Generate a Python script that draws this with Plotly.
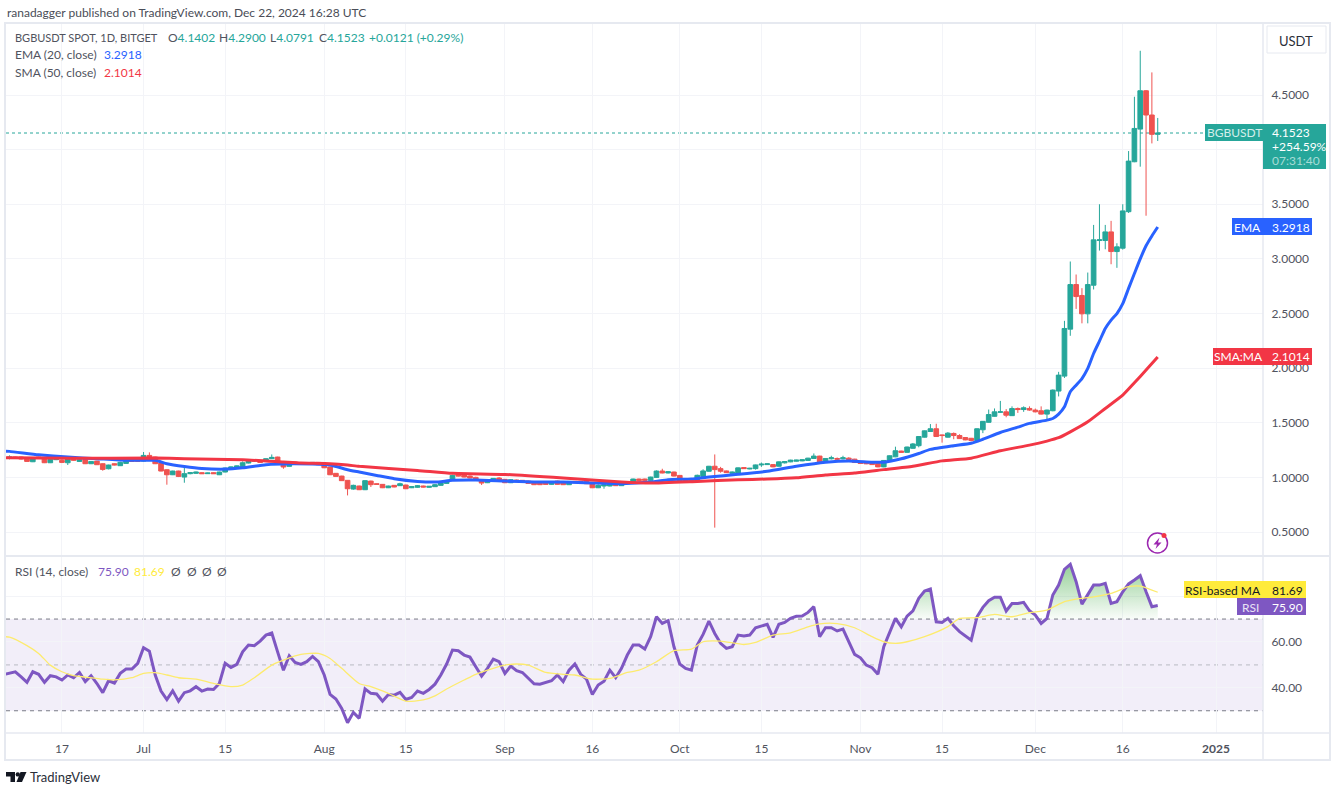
import pandas as pd
import numpy as np
import plotly.graph_objects as go
from plotly.subplots import make_subplots

WIDTH = 1337
HEIGHT = 788
FONT = "Lato"
GREEN = "#26a69a"
RED = "#ef5350"
BLUE = "#2962ff"
SMA_RED = "#f23645"
PURPLE = "#7e57c2"
YELLOW = "#ffeb3b"
TEXT = "#50535e"
GRID = "#f3f4f8"
FRAME = "#e6e9f0"

dates = pd.date_range("2024-06-08", "2024-12-22", freq="D")
# the lines run on past the left edge, one bar before the first candle shown
first_line_day = pd.Timestamp("2024-06-07")

bar_open = [
    1.180, 1.186, 1.186, 1.177, 1.143, 1.186, 1.177, 1.134, 1.162, 1.156,
    1.134, 1.171, 1.146, 1.162, 1.125, 1.149, 1.125, 1.079, 1.125, 1.107,
    1.128, 1.153, 1.162, 1.149, 1.201, 1.186, 1.134, 1.070, 1.024, 1.058,
    1.003, 1.034, 1.037, 1.043, 1.034, 1.043, 1.024, 1.049, 1.085, 1.095,
    1.095, 1.131, 1.149, 1.149, 1.146, 1.171, 1.186, 1.134, 1.101, 1.140,
    1.122, 1.134, 1.119, 1.137, 1.119, 1.095, 1.037, 1.012, 0.973, 0.893,
    0.921, 0.887, 0.966, 0.942, 0.936, 0.905, 0.927, 0.924, 0.930, 0.905,
    0.909, 0.921, 0.909, 0.915, 0.927, 0.945, 0.973, 1.024, 1.024, 1.012,
    1.000, 0.973, 0.951, 0.966, 0.994, 0.982, 0.951, 0.976, 0.973, 0.966,
    0.957, 0.948, 0.948, 0.936, 0.966, 0.957, 0.933, 0.963, 0.963, 0.963,
    0.942, 0.905, 0.921, 0.921, 0.945, 0.924, 0.942, 0.951, 0.985, 0.985,
    0.973, 1.000, 1.058, 1.040, 1.049, 1.018, 0.981, 0.978, 0.963, 1.009,
    1.056, 1.102, 1.080, 1.059, 1.037, 1.040, 1.090, 1.077, 1.080, 1.114,
    1.117, 1.117, 1.102, 1.133, 1.142, 1.148, 1.151, 1.155, 1.173, 1.195,
    1.142, 1.170, 1.173, 1.170, 1.176, 1.167, 1.142, 1.139, 1.133, 1.127,
    1.096, 1.148, 1.188, 1.241, 1.229, 1.266, 1.290, 1.368, 1.420, 1.445,
    1.389, 1.368, 1.402, 1.383, 1.365, 1.358, 1.337, 1.436, 1.504, 1.559,
    1.596, 1.600, 1.565, 1.630, 1.621, 1.631, 1.616, 1.610, 1.579, 1.610,
    1.790, 1.927, 2.357, 2.765, 2.665, 2.497, 2.759, 3.168, 3.168, 3.247,
    3.067, 3.098, 3.432, 3.889, 4.188, 4.539, 4.317, 4.1402,
]
bar_high = [
    1.201, 1.189, 1.189, 1.180, 1.177, 1.189, 1.180, 1.168, 1.174, 1.165,
    1.192, 1.174, 1.165, 1.165, 1.149, 1.152, 1.128, 1.116, 1.128, 1.143,
    1.159, 1.156, 1.165, 1.232, 1.229, 1.189, 1.137, 1.073, 1.061, 1.061,
    1.110, 1.049, 1.052, 1.046, 1.043, 1.046, 1.052, 1.088, 1.098, 1.107,
    1.146, 1.156, 1.159, 1.152, 1.174, 1.210, 1.189, 1.137, 1.140, 1.143,
    1.137, 1.137, 1.140, 1.140, 1.122, 1.098, 1.040, 1.015, 0.976, 0.933,
    0.924, 0.973, 0.970, 0.945, 0.939, 0.924, 0.930, 0.951, 0.933, 0.918,
    0.930, 0.924, 0.921, 0.939, 0.954, 0.973, 1.024, 1.027, 1.027, 1.018,
    1.006, 0.976, 0.982, 0.994, 1.003, 0.985, 0.982, 0.979, 0.976, 0.970,
    0.960, 0.951, 0.951, 0.954, 0.970, 0.960, 0.966, 0.966, 0.966, 0.966,
    0.945, 0.936, 0.936, 0.945, 0.948, 0.954, 0.963, 0.988, 0.988, 0.988,
    1.006, 1.064, 1.079, 1.055, 1.052, 1.021, 0.985, 0.981, 1.025, 1.074,
    1.105, 1.210, 1.096, 1.062, 1.053, 1.090, 1.093, 1.087, 1.117, 1.136,
    1.127, 1.121, 1.145, 1.148, 1.161, 1.161, 1.164, 1.179, 1.219, 1.198,
    1.176, 1.198, 1.182, 1.198, 1.185, 1.170, 1.145, 1.142, 1.136, 1.130,
    1.158, 1.201, 1.281, 1.244, 1.281, 1.315, 1.377, 1.429, 1.488, 1.491,
    1.392, 1.414, 1.411, 1.395, 1.368, 1.361, 1.448, 1.516, 1.621, 1.631,
    1.700, 1.625, 1.650, 1.640, 1.650, 1.650, 1.630, 1.650, 1.620, 1.805,
    1.966, 2.433, 2.976, 2.857, 2.732, 2.875, 3.311, 3.500, 3.311, 3.348,
    3.143, 3.500, 3.987, 4.484, 4.905, 4.545, 4.707, 4.2900,
]
bar_low = [
    1.165, 1.174, 1.165, 1.143, 1.140, 1.171, 1.131, 1.131, 1.158, 1.131,
    1.113, 1.150, 1.143, 1.122, 1.122, 1.113, 1.061, 1.073, 1.110, 1.104,
    1.125, 1.143, 1.143, 1.146, 1.183, 1.122, 1.055, 0.933, 1.021, 1.003,
    0.951, 1.028, 1.034, 1.031, 1.031, 1.031, 1.021, 1.046, 1.082, 1.092,
    1.092, 1.128, 1.146, 1.134, 1.143, 1.168, 1.131, 1.079, 1.098, 1.116,
    1.119, 1.119, 1.116, 1.113, 1.085, 1.021, 1.006, 0.967, 0.835, 0.887,
    0.884, 0.884, 0.912, 0.933, 0.902, 0.902, 0.909, 0.921, 0.893, 0.902,
    0.905, 0.909, 0.905, 0.912, 0.924, 0.942, 0.970, 1.009, 1.000, 0.991,
    0.970, 0.930, 0.948, 0.963, 0.970, 0.948, 0.948, 0.960, 0.960, 0.942,
    0.930, 0.930, 0.933, 0.933, 0.933, 0.930, 0.930, 0.948, 0.945, 0.939,
    0.902, 0.902, 0.896, 0.918, 0.921, 0.921, 0.939, 0.948, 0.967, 0.970,
    0.970, 0.997, 1.037, 1.037, 1.009, 0.967, 0.960, 0.960, 0.960, 1.006,
    1.053, 0.540, 1.043, 1.040, 1.034, 1.037, 1.077, 1.074, 1.071, 1.096,
    1.114, 1.093, 1.099, 1.127, 1.139, 1.145, 1.148, 1.152, 1.170, 1.139,
    1.139, 1.164, 1.158, 1.164, 1.161, 1.133, 1.124, 1.121, 1.114, 1.093,
    1.093, 1.145, 1.185, 1.226, 1.226, 1.263, 1.275, 1.365, 1.417, 1.371,
    1.318, 1.365, 1.349, 1.352, 1.340, 1.331, 1.334, 1.405, 1.501, 1.556,
    1.590, 1.550, 1.562, 1.590, 1.600, 1.610, 1.595, 1.575, 1.524, 1.605,
    1.741, 1.910, 2.296, 2.542, 2.410, 2.410, 2.720, 3.076, 3.088, 2.951,
    2.918, 3.085, 3.420, 3.885, 3.844, 3.395, 4.057, 4.0791,
]
bar_close = [
    1.186, 1.177, 1.168, 1.146, 1.174, 1.174, 1.134, 1.165, 1.171, 1.137,
    1.174, 1.156, 1.162, 1.125, 1.146, 1.116, 1.073, 1.113, 1.113, 1.137,
    1.156, 1.146, 1.146, 1.201, 1.186, 1.125, 1.058, 1.024, 1.058, 1.009,
    1.034, 1.043, 1.049, 1.034, 1.040, 1.034, 1.049, 1.085, 1.095, 1.104,
    1.134, 1.149, 1.156, 1.137, 1.171, 1.183, 1.134, 1.095, 1.137, 1.119,
    1.134, 1.122, 1.137, 1.116, 1.088, 1.024, 1.009, 0.970, 0.896, 0.927,
    0.887, 0.970, 0.933, 0.936, 0.905, 0.921, 0.912, 0.942, 0.896, 0.915,
    0.924, 0.912, 0.918, 0.933, 0.951, 0.970, 1.018, 1.012, 1.003, 0.994,
    0.973, 0.948, 0.979, 0.991, 0.973, 0.951, 0.979, 0.966, 0.963, 0.945,
    0.933, 0.933, 0.936, 0.951, 0.936, 0.933, 0.963, 0.951, 0.948, 0.942,
    0.905, 0.927, 0.933, 0.942, 0.924, 0.951, 0.960, 0.985, 0.970, 0.973,
    1.003, 1.058, 1.040, 1.052, 1.012, 0.970, 0.963, 0.963, 1.019, 1.059,
    1.102, 1.071, 1.056, 1.043, 1.049, 1.087, 1.080, 1.083, 1.114, 1.121,
    1.124, 1.096, 1.142, 1.145, 1.158, 1.158, 1.161, 1.176, 1.195, 1.142,
    1.173, 1.179, 1.167, 1.179, 1.164, 1.136, 1.127, 1.124, 1.117, 1.096,
    1.155, 1.198, 1.244, 1.229, 1.278, 1.306, 1.374, 1.426, 1.445, 1.374,
    1.383, 1.405, 1.383, 1.355, 1.343, 1.337, 1.445, 1.513, 1.575, 1.600,
    1.600, 1.569, 1.630, 1.621, 1.637, 1.616, 1.600, 1.579, 1.616, 1.799,
    1.936, 2.363, 2.765, 2.655, 2.497, 2.765, 3.174, 3.174, 3.247, 3.067,
    3.110, 3.439, 3.895, 4.194, 4.539, 4.317, 4.140, 4.1523,
]

# moving averages read at these bar numbers
ema_bars = [
    0, 5, 10, 15, 20, 25, 27, 30, 33, 37, 40, 44, 48, 52, 55, 58, 60, 63, 66, 70,
    73, 76, 80, 85, 90, 95, 100, 105, 110, 113, 117, 120, 125, 130, 135, 140, 144,
    148, 150, 153, 156, 158, 162, 165, 167, 170, 173, 175, 178, 179, 180, 181, 182,
    183, 184, 185, 186, 187, 188, 189, 190, 191, 192, 193, 194, 195, 196, 197,
]
ema_start = 1.241
ema_values = [
    1.238, 1.207, 1.186, 1.171, 1.156, 1.156, 1.125, 1.100, 1.082, 1.076, 1.088,
    1.116, 1.125, 1.122, 1.113, 1.070, 1.049, 1.018, 0.988, 0.963, 0.957, 0.973,
    0.976, 0.966, 0.957, 0.957, 0.948, 0.942, 0.957, 0.979, 0.985, 1.003, 1.028,
    1.056, 1.102, 1.139, 1.151, 1.139, 1.139, 1.170, 1.219, 1.256, 1.290, 1.312,
    1.349, 1.411, 1.460, 1.494, 1.524, 1.539, 1.579, 1.646, 1.783, 1.844, 1.905,
    1.997, 2.134, 2.247, 2.363, 2.439, 2.500, 2.590, 2.730, 2.866, 3.000, 3.120,
    3.210, 3.2918,
]
sma_bars = [
    0, 10, 25, 30, 40, 47, 50, 55, 58, 60, 70, 76, 85, 95, 105, 110, 118, 125, 130,
    135, 140, 145, 150, 155, 160, 165, 170, 175, 178, 180, 182, 185, 188, 191, 193,
    195, 197,
]
sma_start = 1.180
sma_values = [
    1.180, 1.174, 1.177, 1.171, 1.162, 1.140, 1.131, 1.125, 1.113, 1.101, 1.064,
    1.037, 1.027, 0.994, 0.957, 0.948, 0.963, 0.978, 0.985, 0.997, 1.022, 1.040,
    1.071, 1.102, 1.151, 1.176, 1.244, 1.295, 1.332, 1.363, 1.417, 1.509, 1.631,
    1.753, 1.866, 1.982, 2.1014,
]

rsi_start = 45.8
rsi_values = [
    46.3, 47.0, 44.8, 42.4, 47.0, 45.9, 42.4, 45.3, 44.8, 43.4,
    45.6, 44.4, 46.7, 42.7, 45.3, 41.9, 37.9, 43.1, 42.1, 46.3,
    48.2, 48.2, 50.7, 57.5, 56.0, 45.6, 38.6, 34.9, 38.7, 34.2,
    37.9, 38.7, 40.5, 38.6, 39.5, 39.3, 41.9, 50.7, 48.9, 50.2,
    55.7, 58.7, 58.4, 60.4, 63.0, 63.9, 55.7, 47.7, 54.0, 51.1,
    50.2, 51.4, 53.7, 51.4, 45.6, 37.1, 35.1, 31.0, 24.8, 29.3,
    26.7, 39.5, 37.6, 37.3, 34.2, 37.1, 36.8, 38.0, 34.9, 35.8,
    38.6, 37.6, 39.3, 41.6, 45.6, 50.4, 56.5, 56.2, 54.3, 53.4,
    49.2, 45.1, 48.5, 52.5, 51.4, 46.3, 49.5, 47.5, 46.7, 44.4,
    41.8, 41.6, 42.4, 43.1, 45.6, 42.7, 47.7, 50.4, 45.9, 43.8,
    37.1, 41.2, 42.9, 47.7, 44.4, 48.5, 54.3, 58.7, 58.7, 56.9,
    62.3, 71.0, 68.1, 69.3, 57.9, 50.4, 48.5, 47.7, 58.7, 63.3,
    69.1, 63.7, 59.4, 57.2, 57.9, 63.0, 62.6, 63.0, 66.2, 67.1,
    67.7, 62.0, 67.7, 68.5, 70.3, 71.2, 71.3, 72.9, 75.4, 62.3,
    66.2, 66.2, 64.8, 65.6, 59.8, 54.6, 53.1, 49.9, 48.8, 45.9,
    57.9, 64.2, 70.3, 66.6, 71.3, 73.6, 79.0, 82.2, 83.1, 68.8,
    68.5, 70.3, 67.1, 64.5, 62.7, 60.8, 71.0, 75.1, 78.0, 79.5,
    79.5, 73.5, 76.8, 76.8, 77.3, 73.6, 71.7, 68.1, 70.3, 80.5,
    84.8, 91.7, 93.9, 86.3, 76.5, 80.5, 84.8, 84.8, 85.6, 76.8,
    77.6, 81.9, 85.3, 87.0, 88.9, 81.9, 75.4, 75.9,
]
rsi_ma_bars = [
    0, 3, 5, 7, 9, 11, 13, 16, 18, 21, 23, 25, 27, 29, 32, 35, 38, 40, 42, 45, 47,
    50, 53, 55, 57, 60, 62, 65, 68, 71, 73, 75, 78, 80, 83, 85, 87, 89, 92, 95, 97,
    100, 103, 106, 108, 111, 114, 117, 119, 122, 126, 128, 131, 134, 137, 139, 142,
    145, 148, 150, 152, 154, 157, 161, 163, 166, 169, 172, 175, 178, 181, 183, 186,
    189, 192, 194, 197,
]
rsi_ma_start = 62.3
rsi_ma_values = [
    62.1, 58.4, 55.0, 49.9, 47.0, 45.3, 44.7, 43.8, 43.5, 44.4, 46.3, 46.6, 45.6,
    44.4, 43.8, 41.9, 40.5, 41.2, 44.4, 49.9, 52.1, 54.6, 55.0, 52.8, 48.5, 41.9,
    40.5, 37.6, 34.2, 34.7, 36.5, 39.5, 43.4, 45.9, 48.5, 49.9, 50.4, 49.9, 46.7,
    45.9, 45.6, 43.8, 44.1, 46.7, 47.7, 51.4, 56.2, 56.9, 60.1, 60.4, 58.9, 59.8,
    63.0, 64.0, 66.6, 67.9, 68.0, 66.2, 62.3, 60.1, 59.4, 60.1, 62.3, 66.7, 70.3,
    70.6, 72.0, 71.0, 72.8, 73.9, 77.6, 78.7, 79.7, 81.2, 84.1, 84.4, 81.69,
]

price_ticks = [0.5, 1.0, 1.5, 2.0, 2.5, 3.0, 3.5, 4.0, 4.5]
# 4.0000 sits behind the last price badge, so it gets a grid line but no label
price_labels = ["0.5000", "1.0000", "1.5000", "2.0000", "2.5000", "3.0000", "3.5000", "", "4.5000"]
rsi_ticks = [40, 60, 80]
rsi_labels = ["40.00", "60.00", ""]
time_ticks = [
    "2024-06-17", "2024-07-01", "2024-07-15", "2024-08-01", "2024-08-15",
    "2024-09-01", "2024-09-16", "2024-10-01", "2024-10-15", "2024-11-01",
    "2024-11-15", "2024-12-01", "2024-12-16", "2025-01-01",
]
time_labels = [
    "17", "Jul", "15", "Aug", "15", "Sep", "16", "Oct", "15", "Nov", "15", "Dec",
    "16", "<b>2025</b>",
]


def px_x(x):
    return x / WIDTH


def px_y(y):
    return 1 - y / HEIGHT


def path_of(points):
    cmds = [f"{px_x(x):.5f},{px_y(y):.5f}" for x, y in points]
    return "M" + " L".join(cmds) + " Z"


def add_rect(fig, x0, y0, x1, y1, fill=None, line=None, width=1):
    fig.add_shape(
        type="rect", xref="paper", yref="paper", layer="above",
        x0=px_x(x0), x1=px_x(x1), y0=px_y(y0), y1=px_y(y1),
        fillcolor=fill or "rgba(0,0,0,0)",
        line=dict(color=line or "rgba(0,0,0,0)", width=width),
    )


def add_rule(fig, x0, y0, x1, y1, color=FRAME, width=1):
    fig.add_shape(
        type="line", xref="paper", yref="paper", layer="above",
        x0=px_x(x0), x1=px_x(x1), y0=px_y(y0), y1=px_y(y1),
        line=dict(color=color, width=width),
    )


def add_text(fig, x, y, text, color=TEXT, size=12, anchor="left"):
    fig.add_annotation(
        xref="paper", yref="paper", x=px_x(x), y=px_y(y), text=text, showarrow=False,
        xanchor=anchor, yanchor="middle", borderpad=0,
        font=dict(family=FONT, size=size, color=color),
    )


fig = make_subplots(rows=2, cols=1, shared_xaxes=True)

fig.add_trace(go.Candlestick(
    x=dates, open=bar_open, high=bar_high, low=bar_low, close=bar_close,
    increasing=dict(line=dict(color=GREEN, width=1), fillcolor=GREEN),
    decreasing=dict(line=dict(color=RED, width=1), fillcolor=RED),
    showlegend=False,
), row=1, col=1)
fig.add_trace(go.Scatter(
    x=[first_line_day, *dates[ema_bars]], y=[ema_start, *ema_values], mode="lines",
    line=dict(color=BLUE, width=3, shape="spline", smoothing=0.5), showlegend=False,
), row=1, col=1)
fig.add_trace(go.Scatter(
    x=[first_line_day, *dates[sma_bars]], y=[sma_start, *sma_values], mode="lines",
    line=dict(color=SMA_RED, width=3, shape="spline", smoothing=0.5), showlegend=False,
), row=1, col=1)

# green overbought fill between the 70 level and the RSI
fig.add_trace(go.Scatter(
    x=dates, y=[70] * len(dates), mode="lines", line=dict(width=0), showlegend=False,
), row=2, col=1)
fig.add_trace(go.Scatter(
    x=dates, y=np.maximum(rsi_values, 70), mode="lines", line=dict(width=0),
    fill="tonexty", showlegend=False,
    fillgradient=dict(
        type="vertical", start=70, stop=95,
        colorscale=[[0, "rgba(76,175,80,0.03)"], [1, "rgba(76,175,80,0.62)"]],
    ),
), row=2, col=1)
fig.add_trace(go.Scatter(
    x=[first_line_day, *dates], y=[rsi_start, *rsi_values], mode="lines",
    line=dict(color=PURPLE, width=3), showlegend=False,
), row=2, col=1)
fig.add_trace(go.Scatter(
    x=[first_line_day, *dates[rsi_ma_bars]], y=[rsi_ma_start, *rsi_ma_values], mode="lines",
    line=dict(color="#fdeb6e", width=1.3, shape="spline", smoothing=0.6),
    showlegend=False,
), row=2, col=1)

# RSI band and levels
fig.add_shape(type="rect", xref="x2 domain", yref="y2", x0=0, x1=1, y0=30, y1=70,
              fillcolor="rgba(126,87,194,0.1)", line=dict(width=0), layer="below")
for level, color in [(70, "#787b86"), (50, "#b8bac2"), (30, "#787b86")]:
    fig.add_shape(type="line", xref="x2 domain", yref="y2", x0=0, x1=1, y0=level, y1=level,
                  line=dict(color=color, width=1, dash="4px,4px"), layer="below")
# last price line
fig.add_shape(type="line", xref="x domain", yref="y", x0=0, x1=1, y0=bar_close[-1],
              y1=bar_close[-1], line=dict(color=GREEN, width=1, dash="dot"), layer="below")

fig.update_xaxes(
    range=["2024-06-07 09:36", "2025-01-09 01:30"], tickvals=time_ticks, ticktext=time_labels,
    showgrid=True, gridcolor=GRID, gridwidth=1, zeroline=False, showline=False,
    rangeslider_visible=False, domain=[px_x(6), px_x(1263)],
    ticks="outside", ticklen=5, tickcolor="rgba(0,0,0,0)",
    tickfont=dict(family=FONT, size=12, color=TEXT), tickangle=0,
)
fig.update_yaxes(
    side="right", showgrid=True, gridcolor=GRID, gridwidth=1, zeroline=False, showline=False,
    ticks="outside", ticklen=5, tickcolor="rgba(0,0,0,0)",
    tickfont=dict(family=FONT, size=12, color=TEXT),
)
fig.update_yaxes(row=1, col=1, range=[0.2895, 5.15], tickvals=price_ticks, ticktext=price_labels,
                 domain=[px_y(555), px_y(24)])
fig.update_yaxes(row=2, col=1, range=[20.3, 97.5], tickvals=rsi_ticks, ticktext=rsi_labels,
                 domain=[px_y(733), px_y(556)])
fig.update_xaxes(row=1, col=1, showticklabels=False, ticks="")

fig.update_layout(
    width=WIDTH, height=HEIGHT, autosize=False, paper_bgcolor="white", plot_bgcolor="white",
    margin=dict(l=0, r=0, t=0, b=0), boxgap=0.2, boxgroupgap=0, showlegend=False,
)

# chart frame and pane separators
add_rect(fig, 5, 23, 1330, 760, line=FRAME, width=2)
add_rule(fig, 6, 556, 1330, 556, width=2)
add_rule(fig, 6, 733, 1330, 733, width=1.5)
add_rule(fig, 1263, 24, 1263, 760, width=1.5)

# header and legends, each piece placed where the reference has it
add_text(fig, 6, 12, "ranadagger published on TradingView.com, Dec 22, 2024 16:28 UTC", "#4a4d57")
num = f'<span style="color:{GREEN}">%s</span>'
add_text(fig, 14, 38, "BGBUSDT SPOT, 1D, BITGET", size=11)
add_text(fig, 167, 38, "O" + num % "4.1402")
add_text(fig, 218, 38, "H" + num % "4.2900")
add_text(fig, 269, 38, "L" + num % "4.0791")
add_text(fig, 318, 38, "C" + num % "4.1523")
add_text(fig, 368, 38, "+0.0121 (+0.29%)", GREEN)
add_text(fig, 14, 55, "EMA (20, close)")
add_text(fig, 103, 55, "3.2918", BLUE)
add_text(fig, 14, 72, "SMA (50, close)")
add_text(fig, 103, 72, "2.1014", SMA_RED)
add_text(fig, 14, 571, "RSI (14, close)")
add_text(fig, 97, 571, "75.90", PURPLE)
add_text(fig, 133, 571, "81.69", YELLOW)
for slot in [170, 186, 201, 216]:
    add_text(fig, slot, 571, "Ø")

# currency button
add_rect(fig, 1267, 26, 1326, 53, fill="white", line="#e6e9f0", width=1)
add_text(fig, 1296, 41, "USDT", "#2a2e39", 13, "center")

# price badges
add_rect(fig, 1205, 124, 1263, 141, fill=GREEN)
add_rect(fig, 1263, 124, 1326, 169, fill=GREEN)
add_text(fig, 1234, 133, "BGBUSDT", "#d4eeeb", 12, "center")
add_text(fig, 1271, 133, "4.1523", "white")
add_text(fig, 1271, 147, "+254.59%", "white")
add_text(fig, 1271, 160.5, "07:31:40", "#a8dcd6")
add_rect(fig, 1232, 218, 1263, 235, fill=BLUE)
add_rect(fig, 1263, 218, 1312, 235, fill=BLUE)
add_text(fig, 1247, 227, "EMA", "white", 12, "center")
add_text(fig, 1271, 227, "3.2918", "white")
add_rect(fig, 1213, 348, 1263, 365, fill=SMA_RED)
add_rect(fig, 1263, 348, 1312, 365, fill=SMA_RED)
add_text(fig, 1238, 357, "SMA:MA", "white", 12, "center")
add_text(fig, 1271, 357, "2.1014", "white")
add_rect(fig, 1184, 581, 1263, 598, fill=YELLOW)
add_rect(fig, 1263, 581, 1306, 598, fill=YELLOW)
add_text(fig, 1223, 590, "RSI-based MA", "#131722", 12, "center")
add_text(fig, 1271, 590, "81.69", "#131722")
add_rect(fig, 1237, 598, 1263, 615, fill=PURPLE)
add_rect(fig, 1263, 598, 1306, 615, fill=PURPLE)
add_text(fig, 1250, 607, "RSI", "#e8e2f5", 12, "center")
add_text(fig, 1271, 607, "75.90", "white")

# bolt icon
fig.add_shape(type="circle", xref="paper", yref="paper", layer="above",
              x0=px_x(1147.5), x1=px_x(1167.5), y0=px_y(553), y1=px_y(533),
              line=dict(color="#9c27b0", width=1.5), fillcolor="white")
fig.add_shape(type="path", xref="paper", yref="paper", layer="above",
              path=path_of([(1159.5, 537.5), (1153.5, 544.5), (1157, 544.5),
                            (1155.5, 549), (1161.5, 542.5), (1158, 542.5)]),
              fillcolor="#9c27b0", line=dict(width=0))
fig.add_shape(type="circle", xref="paper", yref="paper", layer="above",
              x0=px_x(1161.5), x1=px_x(1166.5), y0=px_y(538), y1=px_y(533),
              fillcolor="#f23645", line=dict(width=0))

# TradingView logo
fig.add_shape(type="path", xref="paper", yref="paper", layer="above",
              path=path_of([(6, 772), (15, 772), (15, 782), (10.5, 782), (10.5, 776.5), (6, 776.5)]),
              fillcolor="#131722", line=dict(width=0))
fig.add_shape(type="circle", xref="paper", yref="paper", layer="above",
              x0=px_x(15.6), x1=px_x(20), y0=px_y(776.6), y1=px_y(772.2),
              fillcolor="#131722", line=dict(width=0))
fig.add_shape(type="path", xref="paper", yref="paper", layer="above",
              path=path_of([(20.5, 772), (26.5, 772), (22, 782), (16.5, 782)]),
              fillcolor="#131722", line=dict(width=0))
add_text(fig, 29, 777, "TradingView", "#2a2e39", 13)

fig.write_html("out.html", config={"displayModeBar": False},
               post_script="document.body.style.margin='0';")
